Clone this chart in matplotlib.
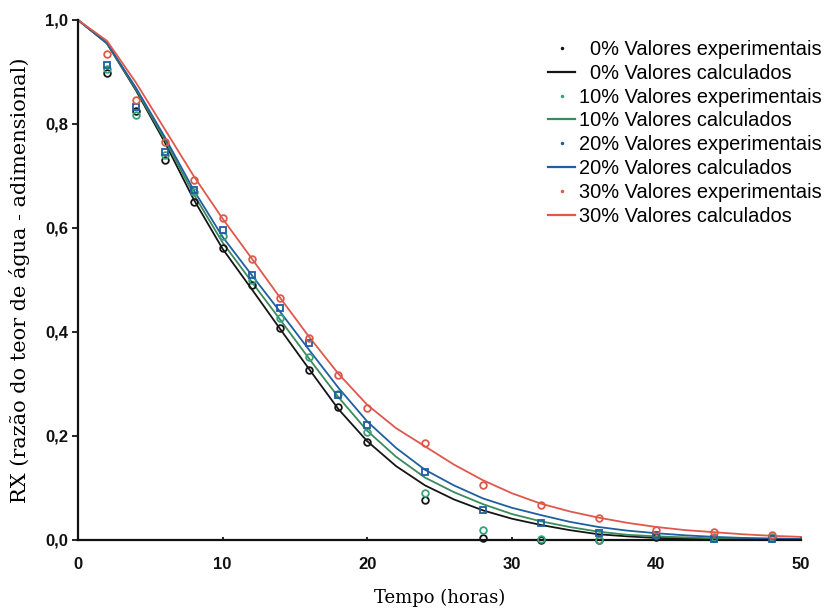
import matplotlib
matplotlib.use("Agg")
import matplotlib.pyplot as plt
from matplotlib.lines import Line2D

# ---------------- data ----------------
t_exp = [2, 4, 6, 8, 10, 12, 14, 16, 18, 20, 24, 28, 32, 36, 40, 44, 48]
exp_0 = [0.898, 0.825, 0.731, 0.650, 0.561, 0.490, 0.408, 0.327, 0.256, 0.188,
         0.077, 0.004, 0.000, 0.000, 0.005, 0.003, 0.003]
exp_10 = [0.905, 0.817, 0.740, 0.670, 0.585, 0.500, 0.427, 0.352, 0.280, 0.208,
          0.090, 0.019, 0.002, 0.000, 0.010, 0.005, 0.005]
exp_20 = [0.913, 0.833, 0.746, 0.673, 0.596, 0.510, 0.446, 0.378, 0.279, 0.221,
          0.131, 0.058, 0.033, 0.013, 0.010, 0.002, 0.002]
exp_30 = [0.935, 0.846, 0.765, 0.692, 0.619, 0.540, 0.465, 0.388, 0.317, 0.254,
          0.187, 0.106, 0.067, 0.042, 0.019, 0.015, 0.010]

t_calc = [0, 2, 4, 6, 8, 10, 12, 14, 16, 18, 20, 22, 24, 26, 28, 30, 32, 34, 36,
          38, 40, 42, 44, 46, 48, 50]
calc_0 = [1.0, 0.955, 0.865, 0.765, 0.655, 0.560, 0.483, 0.405, 0.328, 0.252,
          0.190, 0.142, 0.105, 0.078, 0.057, 0.041, 0.029, 0.019, 0.011, 0.007,
          0.004, 0.003, 0.002, 0.001, 0.001, 0.000]
calc_10 = [1.0, 0.955, 0.867, 0.770, 0.665, 0.572, 0.497, 0.423, 0.348, 0.275,
           0.210, 0.160, 0.120, 0.092, 0.069, 0.050, 0.036, 0.025, 0.016, 0.010,
           0.007, 0.005, 0.003, 0.002, 0.001, 0.001]
calc_20 = [1.0, 0.956, 0.870, 0.775, 0.673, 0.583, 0.510, 0.438, 0.365, 0.293,
           0.228, 0.177, 0.135, 0.105, 0.080, 0.062, 0.048, 0.035, 0.025, 0.018,
           0.013, 0.009, 0.006, 0.004, 0.003, 0.002]
calc_30 = [1.0, 0.960, 0.880, 0.790, 0.700, 0.618, 0.542, 0.465, 0.390, 0.320,
           0.260, 0.215, 0.180, 0.145, 0.115, 0.090, 0.070, 0.055, 0.043, 0.033,
           0.025, 0.019, 0.015, 0.011, 0.008, 0.006]

x_ticks = [0, 10, 20, 30, 40, 50]
x_ticklabels = ["0", "10", "20", "30", "40", "50"]
y_ticks = [0.0, 0.2, 0.4, 0.6, 0.8, 1.0]
y_ticklabels = ["0,0", "0,2", "0,4", "0,6", "0,8", "1,0"]

labels = ["  0% Valores experimentais", "  0% Valores calculados",
          "10% Valores experimentais", "10% Valores calculados",
          "20% Valores experimentais", "20% Valores calculados",
          "30% Valores experimentais", "30% Valores calculados"]

xlabel = "Tempo (horas)"
ylabel = "RX (razão do teor de água - adimensional)"

# ---------------- style ----------------
col_0 = "#151515"
col_10 = "#3b8a5c"
col_20 = "#1f5f9f"
col_30 = "#e0574c"
mcol_10 = "#3aa07a"

fig = plt.figure(figsize=(8.24, 6.11), dpi=100)
ax = fig.add_axes([78 / 824, 71 / 611, 723 / 824, 520 / 611])

lw = 1.3
ms = 4.8
series = [
    (exp_0, calc_0, col_0, col_0, "o"),
    (exp_10, calc_10, col_10, mcol_10, "o"),
    (exp_20, calc_20, col_20, col_20, "s"),
    (exp_30, calc_30, col_30, col_30, "o"),
]
handles = []
for ex, ca, lc, mc, mk in series:
    ax.plot(t_calc, ca, color=lc, lw=lw, zorder=2, clip_on=False)
    ax.plot(t_exp, ex, linestyle="none", marker=mk, markersize=ms,
            markerfacecolor="none", markeredgecolor=mc, markeredgewidth=1.3,
            zorder=3, clip_on=False)
    handles.append(Line2D([], [], linestyle="none", marker=".", markersize=3,
                          color=mc))
    handles.append(Line2D([], [], color=lc, lw=1.6))

ax.set_xlim(0, 50)
ax.set_ylim(0, 1.0)
ax.set_xticks(x_ticks)
ax.set_xticklabels(x_ticklabels)
ax.set_yticks(y_ticks)
ax.set_yticklabels(y_ticklabels)

for s in ["top", "right"]:
    ax.spines[s].set_visible(False)
for s in ["left", "bottom"]:
    ax.spines[s].set_linewidth(1.6)
    ax.spines[s].set_color("#111111")

for lab in ax.get_xticklabels() + ax.get_yticklabels():
    lab.set_fontfamily("Liberation Sans")
    lab.set_fontweight("bold")
    lab.set_fontsize(12)
    lab.set_color("#111111")
ax.tick_params(axis="y", direction="out", length=4, width=1.2, pad=3)
ax.tick_params(axis="x", direction="in", length=2, width=1.2, pad=12)

ax.set_xlabel(xlabel, family="DejaVu Serif", fontsize=13, labelpad=12)
ax.set_ylabel(ylabel, family="DejaVu Serif", fontsize=15, labelpad=11)

leg = fig.legend(handles, labels, loc="upper left",
                 bbox_to_anchor=(548 / 824, 1 - 40 / 611),
                 frameon=False, borderpad=0, borderaxespad=0,
                 handlelength=1.35, handletextpad=0.18, labelspacing=0.24,
                 prop=dict(family="Liberation Sans", size=14.4))

fig.savefig("out.png", dpi=100)
